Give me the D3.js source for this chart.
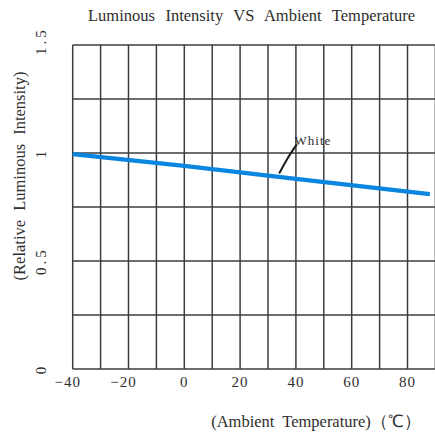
<!DOCTYPE html>
<html>
<head>
<meta charset="utf-8">
<script src="https://cdn.jsdelivr.net/npm/d3@7"></script>
<style>
  html, body { margin: 0; padding: 0; background: #fff; }
  svg { display: block; }
</style>
</head>
<body>
<svg id="chart" width="435" height="440"></svg>
<script>
// ---- data ----
const temperatures = [-40, 0, 40, 88];
const whiteIntensity = [0.995, 0.94, 0.88, 0.81];
const xTicks = [-40, -20, 0, 20, 40, 60, 80];
const yTicks = [0, 0.5, 1, 1.5];
const yTickLabels = ["0", "0.5", "1", "1.5"];
const leaderTemps = [34, 37, 40.3];
const leaderValues = [0.905, 0.975, 1.04];
const seriesLabel = "White";
const titleText = "Luminous Intensity VS Ambient Temperature";
const xTitle = "(Ambient Temperature)\uFF08\u2103\uFF09";
const yTitle = "(Relative Luminous Intensity)";

const FONT = "Liberation Serif";
const TXT = "#2e2e2e";

const svg = d3.select("#chart");
const x = d3.scaleLinear().domain([-40, 90]).range([72.7, 435.4]);
const y = d3.scaleLinear().domain([0, 1.5]).range([369, 45]);

const gridColor = "#3c3c3c";
const g = svg.append("g");
d3.range(-40, 91, 10).forEach(v => {
  g.append("line").attr("x1", x(v)).attr("x2", x(v)).attr("y1", y(0)).attr("y2", y(1.5))
    .attr("stroke", gridColor).attr("stroke-width", 1.5);
});
d3.range(0, 1.51, 0.25).forEach(v => {
  g.append("line").attr("x1", x(-40)).attr("x2", x(90)).attr("y1", y(v)).attr("y2", y(v))
    .attr("stroke", gridColor).attr("stroke-width", 1.5);
});

function txt(sel) { return sel.attr("font-family", FONT).attr("fill", TXT); }
function fitWidth(t, target) {
  const n = (t.text().match(/ /g) || []).length;
  const w = t.node().getComputedTextLength();
  if (n > 0) t.attr("word-spacing", Math.max(0, (target - w) / n));
}

// x tick labels
txt(svg.append("g").selectAll("text").data(xTicks).join("text"))
  .attr("x", d => x(d) - (d < 0 ? 5 : 0)).attr("y", 387)
  .attr("text-anchor", "middle").attr("font-size", 15).attr("letter-spacing", 1)
  .text(d => d < 0 ? "\u2212" + Math.abs(d) : d);

// y tick labels (rotated)
txt(svg.append("g").selectAll("text").data(yTicks).join("text"))
  .attr("transform", d => `translate(46,${y(d) - (d === 1.5 ? 4 : 0)}) rotate(-90)`)
  .attr("text-anchor", "middle").attr("font-size", 15).attr("letter-spacing", 3)
  .text((d, i) => yTickLabels[i]);

// series line
const line = d3.line().x(d => x(d[0])).y(d => y(d[1]));
svg.append("path").datum(temperatures.map((t, i) => [t, whiteIntensity[i]]))
  .attr("d", line).attr("fill", "none").attr("stroke", "#0a86e0").attr("stroke-width", 4.2);

// leader + label
const leader = d3.line().x(d => x(d[0])).y(d => y(d[1])).curve(d3.curveNatural);
svg.append("path").datum(leaderTemps.map((t, i) => [t, leaderValues[i]]))
  .attr("d", leader).attr("fill", "none").attr("stroke", "#1a1a1a").attr("stroke-width", 2);
txt(svg.append("text"))
  .attr("x", x(39.5)).attr("y", y(1.036)).attr("font-size", 13).attr("letter-spacing", 1)
  .text(seriesLabel);

// title
const tt = txt(svg.append("text"))
  .attr("x", 88).attr("y", 21).attr("font-size", 16.5).text(titleText);
fitWidth(tt, 327);

// x axis title
txt(svg.append("text"))
  .attr("x", 316).attr("y", 427).attr("text-anchor", "middle")
  .attr("font-size", 16.5).attr("word-spacing", 4).text(xTitle);

// y axis title
txt(svg.append("text"))
  .attr("transform", "translate(25,176) rotate(-90)").attr("text-anchor", "middle")
  .attr("font-size", 16.5).attr("word-spacing", 5).text(yTitle);
</script>
</body>
</html>
